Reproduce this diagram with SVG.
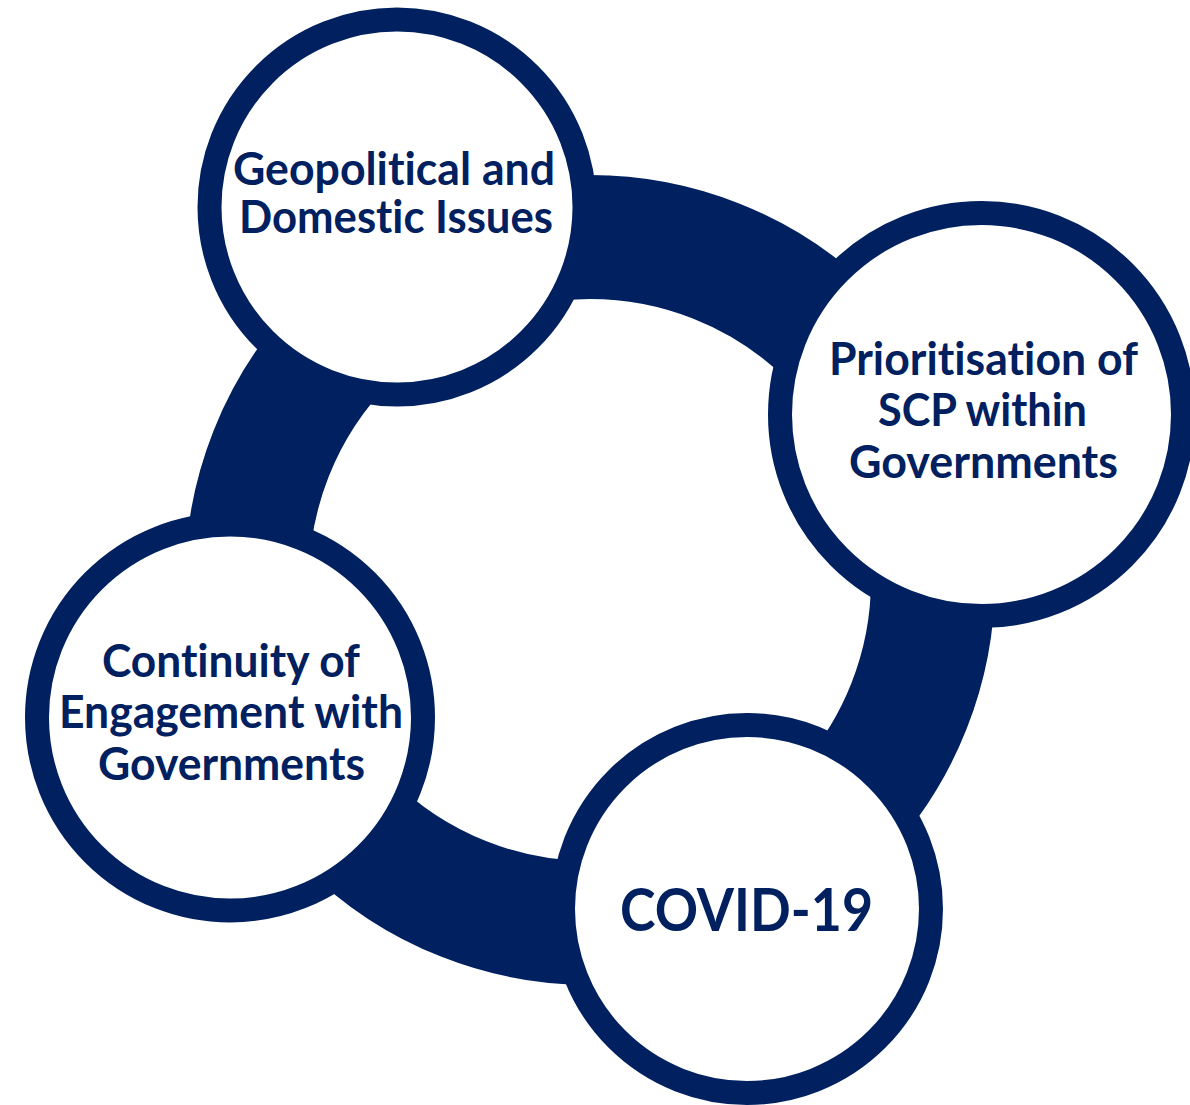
<svg xmlns="http://www.w3.org/2000/svg" width="1190" height="1105" viewBox="0 0 1190 1105">
  <style>
    .ring { fill: none; stroke: #002060; stroke-width: 124; }
    .node { fill: #ffffff; stroke: #002060; stroke-width: 24; }
    .lbl { font-family: "Lato", "Open Sans", "Liberation Sans", sans-serif; font-weight: 700; fill: #002060; text-anchor: middle; font-size: 45px; font-variant-ligatures: none; font-feature-settings: "liga" 0, "dlig" 0; }
    .big { font-size: 59px; }
  </style>
  <rect width="1190" height="1105" fill="#ffffff"/>
  <g id="connectors">
    <circle class="ring" cx="590" cy="580" r="343"/>
  </g>
  <g id="node-geopolitical">
    <circle class="node" cx="397" cy="207" r="187.5"/>
    <text class="lbl" x="394" y="185" textLength="322" lengthAdjust="spacingAndGlyphs">Geopolitical and</text>
    <text class="lbl" x="396" y="233" textLength="314" lengthAdjust="spacingAndGlyphs">Domestic Issues</text>
  </g>
  <g id="node-prioritisation">
    <circle class="node" cx="981.5" cy="414.5" r="201.5"/>
    <text class="lbl" x="983.5" y="375" textLength="309" lengthAdjust="spacingAndGlyphs">Prioritisation of</text>
    <text class="lbl" x="982.5" y="426" textLength="209" lengthAdjust="spacingAndGlyphs">SCP within</text>
    <text class="lbl" x="983.5" y="478" textLength="269" lengthAdjust="spacingAndGlyphs">Governments</text>
  </g>
  <g id="node-covid">
    <circle class="node" cx="747" cy="909" r="184"/>
    <text class="lbl big" x="746.5" y="930.5" textLength="253" lengthAdjust="spacingAndGlyphs">COVID-19</text>
  </g>
  <g id="node-continuity">
    <circle class="node" cx="230" cy="717.5" r="193"/>
    <text class="lbl" x="231" y="676.5" textLength="258" lengthAdjust="spacingAndGlyphs">Continuity of</text>
    <text class="lbl" x="231" y="728" textLength="344" lengthAdjust="spacingAndGlyphs">Engagement with</text>
    <text class="lbl" x="231.5" y="780" textLength="267" lengthAdjust="spacingAndGlyphs">Governments</text>
  </g>
</svg>
